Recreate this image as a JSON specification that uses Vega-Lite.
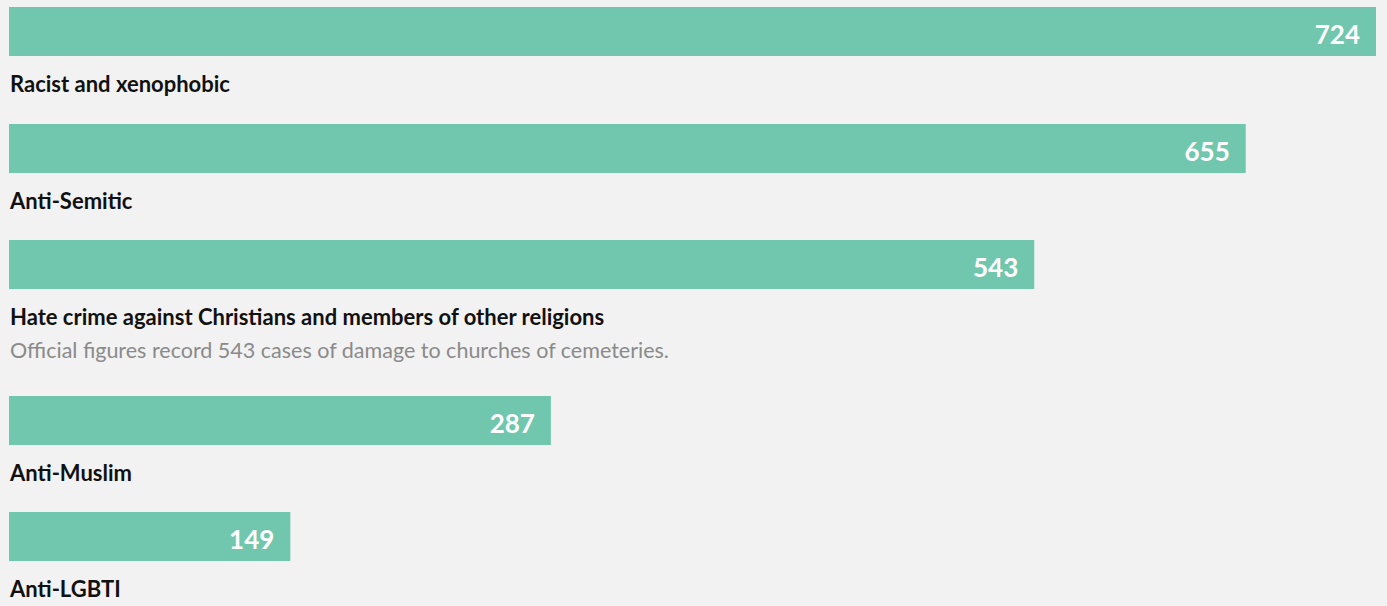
{
  "$schema": "https://vega.github.io/schema/vega-lite/v6.json",
  "background": "#f2f2f2",
  "padding": {"top": 7, "left": 0, "right": 0, "bottom": 0},
  "spacing": 0,
  "config": {"view": {"stroke": null}, "font": "Lato"},
  "data": {"values": [
    {"category": "Racist and xenophobic", "value": 724, "note": ""},
    {"category": "Anti-Semitic", "value": 655, "note": ""},
    {"category": "Hate crime against Christians and members of other religions", "value": 543, "note": "Official figures record 543 cases of damage to churches of cemeteries."},
    {"category": "Anti-Muslim", "value": 287, "note": ""},
    {"category": "Anti-LGBTI", "value": 149, "note": ""}
  ]},
  "vconcat": [
    {"width": 1387, "height": 117, "transform": [{"filter": "datum.category == 'Racist and xenophobic'"}],
     "encoding": {"y": {"field": "category", "type": "nominal", "axis": null, "scale": {"range": [0, 49], "paddingInner": 0, "paddingOuter": 0}}},
     "layer": [
      {"mark": {"type": "bar", "color": "#71c7ae"}, "encoding": {"x": {"field": "value", "type": "quantitative", "axis": null, "scale": {"domain": [0, 724], "range": [9, 1376]}}}},
      {"mark": {"type": "text", "align": "right", "baseline": "alphabetic", "dx": -16, "dy": 12.5, "fontSize": 26, "fontWeight": "bold", "color": "white"}, "encoding": {"x": {"field": "value", "type": "quantitative", "scale": {"domain": [0, 724], "range": [9, 1376]}}, "text": {"field": "value"}}},
      {"mark": {"type": "text", "align": "left", "baseline": "alphabetic", "dx": 1, "dy": 60.5, "fontSize": 22, "fontWeight": "bold", "color": "#111111"}, "encoding": {"x": {"datum": 0, "type": "quantitative", "scale": {"domain": [0, 724], "range": [9, 1376]}}, "text": {"field": "category"}}}
     ]},
    {"width": 1387, "height": 116, "transform": [{"filter": "datum.category == 'Anti-Semitic'"}],
     "encoding": {"y": {"field": "category", "type": "nominal", "axis": null, "scale": {"range": [0, 49], "paddingInner": 0, "paddingOuter": 0}}},
     "layer": [
      {"mark": {"type": "bar", "color": "#71c7ae"}, "encoding": {"x": {"field": "value", "type": "quantitative", "axis": null, "scale": {"domain": [0, 724], "range": [9, 1376]}}}},
      {"mark": {"type": "text", "align": "right", "baseline": "alphabetic", "dx": -16, "dy": 12.5, "fontSize": 26, "fontWeight": "bold", "color": "white"}, "encoding": {"x": {"field": "value", "type": "quantitative", "scale": {"domain": [0, 724], "range": [9, 1376]}}, "text": {"field": "value"}}},
      {"mark": {"type": "text", "align": "left", "baseline": "alphabetic", "dx": 1, "dy": 60.5, "fontSize": 22, "fontWeight": "bold", "color": "#111111"}, "encoding": {"x": {"datum": 0, "type": "quantitative", "scale": {"domain": [0, 724], "range": [9, 1376]}}, "text": {"field": "category"}}}
     ]},
    {"width": 1387, "height": 156, "transform": [{"filter": "datum.value == 543"}],
     "encoding": {"y": {"field": "category", "type": "nominal", "axis": null, "scale": {"range": [0, 49], "paddingInner": 0, "paddingOuter": 0}}},
     "layer": [
      {"mark": {"type": "bar", "color": "#71c7ae"}, "encoding": {"x": {"field": "value", "type": "quantitative", "axis": null, "scale": {"domain": [0, 724], "range": [9, 1376]}}}},
      {"mark": {"type": "text", "align": "right", "baseline": "alphabetic", "dx": -16, "dy": 12.5, "fontSize": 26, "fontWeight": "bold", "color": "white"}, "encoding": {"x": {"field": "value", "type": "quantitative", "scale": {"domain": [0, 724], "range": [9, 1376]}}, "text": {"field": "value"}}},
      {"mark": {"type": "text", "align": "left", "baseline": "alphabetic", "dx": 1, "dy": 60.5, "fontSize": 22, "fontWeight": "bold", "color": "#111111"}, "encoding": {"x": {"datum": 0, "type": "quantitative", "scale": {"domain": [0, 724], "range": [9, 1376]}}, "text": {"field": "category"}}},
      {"mark": {"type": "text", "align": "left", "baseline": "alphabetic", "dx": 1, "dy": 93.5, "fontSize": 21.5, "color": "#8a8a8a"}, "encoding": {"x": {"datum": 0, "type": "quantitative", "scale": {"domain": [0, 724], "range": [9, 1376]}}, "text": {"field": "note"}}}
     ]},
    {"width": 1387, "height": 116, "transform": [{"filter": "datum.category == 'Anti-Muslim'"}],
     "encoding": {"y": {"field": "category", "type": "nominal", "axis": null, "scale": {"range": [0, 49], "paddingInner": 0, "paddingOuter": 0}}},
     "layer": [
      {"mark": {"type": "bar", "color": "#71c7ae"}, "encoding": {"x": {"field": "value", "type": "quantitative", "axis": null, "scale": {"domain": [0, 724], "range": [9, 1376]}}}},
      {"mark": {"type": "text", "align": "right", "baseline": "alphabetic", "dx": -16, "dy": 12.5, "fontSize": 26, "fontWeight": "bold", "color": "white"}, "encoding": {"x": {"field": "value", "type": "quantitative", "scale": {"domain": [0, 724], "range": [9, 1376]}}, "text": {"field": "value"}}},
      {"mark": {"type": "text", "align": "left", "baseline": "alphabetic", "dx": 1, "dy": 60.5, "fontSize": 22, "fontWeight": "bold", "color": "#111111"}, "encoding": {"x": {"datum": 0, "type": "quantitative", "scale": {"domain": [0, 724], "range": [9, 1376]}}, "text": {"field": "category"}}}
     ]},
    {"width": 1387, "height": 94, "transform": [{"filter": "datum.category == 'Anti-LGBTI'"}],
     "encoding": {"y": {"field": "category", "type": "nominal", "axis": null, "scale": {"range": [0, 49], "paddingInner": 0, "paddingOuter": 0}}},
     "layer": [
      {"mark": {"type": "bar", "color": "#71c7ae"}, "encoding": {"x": {"field": "value", "type": "quantitative", "axis": null, "scale": {"domain": [0, 724], "range": [9, 1376]}}}},
      {"mark": {"type": "text", "align": "right", "baseline": "alphabetic", "dx": -16, "dy": 12.5, "fontSize": 26, "fontWeight": "bold", "color": "white"}, "encoding": {"x": {"field": "value", "type": "quantitative", "scale": {"domain": [0, 724], "range": [9, 1376]}}, "text": {"field": "value"}}},
      {"mark": {"type": "text", "align": "left", "baseline": "alphabetic", "dx": 1, "dy": 60.5, "fontSize": 22, "fontWeight": "bold", "color": "#111111"}, "encoding": {"x": {"datum": 0, "type": "quantitative", "scale": {"domain": [0, 724], "range": [9, 1376]}}, "text": {"field": "category"}}}
     ]}
  ]
}
